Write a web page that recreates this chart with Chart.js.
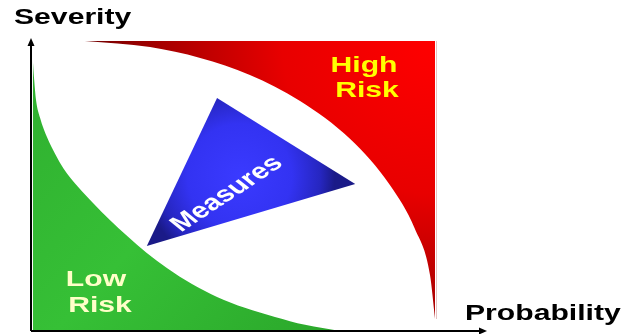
<!DOCTYPE html>
<html>
<head>
<meta charset="utf-8">
<script src="https://cdn.jsdelivr.net/npm/chart.js@4/dist/chart.umd.min.js"></script>
<style>
  html, body { margin: 0; padding: 0; background: #ffffff; }
  #wrap { width: 640px; height: 334px; }
</style>
</head>
<body>
<div id="wrap"><canvas id="risk" width="640" height="334"></canvas></div>
<script>
// Risk matrix: probability (x, 0-100) against severity (y, 0-100)

// Low-risk zone boundary (filled down to the probability axis)
const lowRiskX = [0.4, 0.7, 1.1, 2.0, 3.5, 5.3, 7.2, 10.3, 13.6, 17.3, 21.1, 25.4, 29.8, 35.3, 40.8, 46.9, 53.5, 60.1, 67.8];
const lowRiskY = [92.5, 85.7, 78.8, 72.7, 66.2, 60.4, 55.3, 49.2, 43.7, 37.9, 32.4, 26.6, 21.5, 16.0, 11.6, 7.9, 4.8, 2.1, 0.0];

// High-risk zone boundary (filled up to the ceiling value)
const highRiskX = [11.8, 26.1, 37.1, 48.0, 59.0, 70.0, 78.7, 84.2, 87.5, 88.6];
const highRiskY = [99.0, 96.9, 93.2, 87.4, 78.5, 65.5, 49.8, 34.8, 19.1, 4.1];
const highRiskCeiling = 99.0;

// Measures triangle corners
const measuresX = [40.8, 71.1, 25.4];
const measuresY = [79.5, 50.2, 29.0];

// Labels
const axisLabels = { x: 'Probability', y: 'Severity' };
const zoneLabels = { high: ['High', 'Risk'], low: ['Low', 'Risk'], measures: 'Measures' };

const toPoints = (xs, ys) => xs.map((x, i) => ({ x, y: ys[i] }));
const closed = (xs, ys) => { const p = toPoints(xs, ys); p.push({ ...p[0] }); return p; };

const FONT = 'bold 22px "Liberation Sans", Arial, sans-serif';
const STRETCH = 1.37;

function stretchedText(ctx, text, x, y, align, color) {
  ctx.save();
  ctx.translate(x, y);
  ctx.scale(STRETCH, 1);
  ctx.font = FONT;
  ctx.textAlign = align;
  ctx.textBaseline = 'alphabetic';
  ctx.fillStyle = color;
  ctx.fillText(text, 0, 0);
  ctx.restore();
}

function greenFill(context) {
  const chart = context.chart;
  if (!chart.chartArea) return '#33bb33';
  const { x, y } = chart.scales;
  const g = chart.ctx.createLinearGradient(x.getPixelForValue(0), y.getPixelForValue(100), x.getPixelForValue(70), y.getPixelForValue(0));
  g.addColorStop(0, '#2fae2f');
  g.addColorStop(0.5, '#36c036');
  g.addColorStop(1, '#2aa62a');
  return g;
}

function redFill(context) {
  const chart = context.chart;
  if (!chart.chartArea) return '#ee0000';
  const { x, y } = chart.scales;
  const cx = x.getPixelForValue(88.6), cy = y.getPixelForValue(highRiskCeiling);
  const g = chart.ctx.createRadialGradient(cx, cy, 0, cx, cy, 340);
  g.addColorStop(0, '#ff0000');
  g.addColorStop(0.45, '#e80000');
  g.addColorStop(0.8, '#a80000');
  g.addColorStop(1, '#780000');
  return g;
}

function blueFill(context) {
  const chart = context.chart;
  if (!chart.chartArea) return '#3333ee';
  const { x, y } = chart.scales;
  const mx = measuresX.reduce((a, b) => a + b, 0) / measuresX.length;
  const my = measuresY.reduce((a, b) => a + b, 0) / measuresY.length;
  const cx = x.getPixelForValue(mx), cy = y.getPixelForValue(my);
  const g = chart.ctx.createRadialGradient(cx, cy, 0, cx, cy, 95);
  g.addColorStop(0, '#3a3aff');
  g.addColorStop(0.55, '#3333f2');
  g.addColorStop(0.85, '#2626c0');
  g.addColorStop(1, '#1a1a88');
  return g;
}

// Axes with arrowheads and all labels, drawn on top of the zones
const overlay = {
  id: 'riskOverlay',
  afterDatasetsDraw(chart) {
    const { ctx } = chart;
    const { x, y } = chart.scales;
    const x0 = x.getPixelForValue(0), y0 = y.getPixelForValue(0);
    const xEnd = x.getPixelForValue(100), yEnd = y.getPixelForValue(100);

    // soft edge on the right side of the high-risk zone
    ctx.save();
    ctx.strokeStyle = 'rgba(200,120,120,0.45)';
    ctx.lineWidth = 1;
    ctx.beginPath();
    const rx = Math.round(x.getPixelForValue(highRiskX[highRiskX.length - 1])) + 1.5;
    ctx.moveTo(rx, y.getPixelForValue(highRiskCeiling));
    ctx.lineTo(rx, y.getPixelForValue(highRiskY[highRiskY.length - 1]));
    ctx.stroke();
    ctx.restore();

    ctx.save();
    ctx.strokeStyle = '#000';
    ctx.fillStyle = '#000';
    ctx.lineWidth = 2;
    ctx.beginPath();
    ctx.moveTo(x0, y0);
    ctx.lineTo(x0, yEnd + 4);
    ctx.moveTo(x0, y0);
    ctx.lineTo(xEnd - 4, y0);
    ctx.stroke();
    ctx.beginPath();
    ctx.moveTo(x0, yEnd);
    ctx.lineTo(x0 - 3.5, yEnd + 8);
    ctx.lineTo(x0 + 3.5, yEnd + 8);
    ctx.closePath();
    ctx.fill();
    ctx.beginPath();
    ctx.moveTo(xEnd, y0);
    ctx.lineTo(xEnd - 8, y0 - 3.5);
    ctx.lineTo(xEnd - 8, y0 + 3.5);
    ctx.closePath();
    ctx.fill();
    ctx.restore();

    stretchedText(ctx, axisLabels.y, 14, 24, 'left', '#000');
    stretchedText(ctx, axisLabels.x, 465, 320, 'left', '#000');

    stretchedText(ctx, zoneLabels.high[0], 364, 72, 'center', '#ffff00');
    stretchedText(ctx, zoneLabels.high[1], 367, 97, 'center', '#ffff00');
    stretchedText(ctx, zoneLabels.low[0], 96, 286, 'center', '#ffffc8');
    stretchedText(ctx, zoneLabels.low[1], 100, 312, 'center', '#ffffc8');

    // label along the triangle
    ctx.save();
    ctx.translate(227, 194);
    ctx.scale(STRETCH, 1);
    ctx.rotate(-42 * Math.PI / 180);
    ctx.font = FONT;
    ctx.textAlign = 'center';
    ctx.textBaseline = 'middle';
    ctx.fillStyle = '#ffffff';
    ctx.fillText(zoneLabels.measures, 0, 0);
    ctx.restore();
  }
};

new Chart(document.getElementById('risk'), {
  type: 'scatter',
  data: {
    datasets: [
      {
        label: 'Low Risk',
        data: toPoints(lowRiskX, lowRiskY),
        showLine: true,
        cubicInterpolationMode: 'monotone',
        borderWidth: 0,
        pointRadius: 0,
        backgroundColor: greenFill,
        fill: 'origin'
      },
      {
        label: 'High Risk',
        data: toPoints(highRiskX, highRiskY),
        showLine: true,
        cubicInterpolationMode: 'monotone',
        borderWidth: 0,
        pointRadius: 0,
        backgroundColor: redFill,
        fill: { value: highRiskCeiling }
      },
      {
        label: 'Measures',
        data: closed(measuresX, measuresY),
        showLine: true,
        borderWidth: 0,
        pointRadius: 0,
        backgroundColor: blueFill,
        fill: 'shape'
      }
    ]
  },
  options: {
    responsive: false,
    animation: false,
    layout: { padding: { left: 31, right: 153, top: 38, bottom: 3 } },
    plugins: { legend: { display: false }, tooltip: { enabled: false } },
    scales: {
      x: { type: 'linear', min: 0, max: 100, display: false },
      y: { type: 'linear', min: 0, max: 100, display: false }
    }
  },
  plugins: [overlay]
});
</script>
</body>
</html>
